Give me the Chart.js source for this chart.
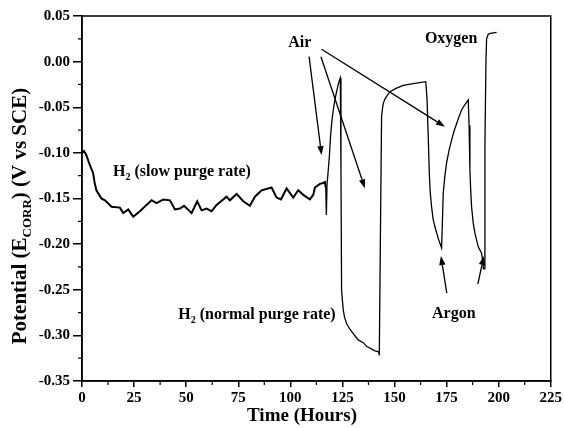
<!DOCTYPE html>
<html>
<head>
<meta charset="utf-8">
<script src="https://cdn.jsdelivr.net/npm/chart.js@4"></script>
<style>
  html, body { margin: 0; padding: 0; background: #fff; }
</style>
</head>
<body>
<canvas id="myChart" width="564" height="428"></canvas>
<script>
// time in hours, corrosion potential in V vs SCE
const times = [
  0, 1, 2, 3.7, 5.3, 6.1, 6.9, 9.3, 11, 14.2, 18.2, 19.8, 22.2, 24.6, 27.8,
  31, 33.4, 35.8, 39, 42.2, 44.6, 47, 49, 52.6, 55.3, 57.4, 59.8, 62.2, 64.6,
  69.4, 71, 74.2, 77.4, 80.6, 83, 86.2, 91, 93.4, 95.5, 98.2, 101.4, 103.8,
  106.2, 109.4, 111, 111.8, 114.2, 115.8, 116.6, 117, 117.3, 117.6,
  118.2, 118.7, 119.3, 119.9, 120.6, 121.4, 122.2, 123, 123.5, 124,
  124.3, 124.6, 125, 125.4, 126, 127, 128.5, 130.2, 132.6, 135, 136.6, 140.6, 142.4, 142.7,
  143.2, 143.8, 144.2, 144.6, 145.4, 146.2, 147.8, 151, 154.2, 159, 165,
  165.6, 166.3, 166.7, 167.2, 167.8, 168.5, 169.4, 171, 172.6,
  173, 173.4, 174.2, 175, 176.2, 177.4, 178.6, 179.8, 181, 182.2, 183.8, 185.4,
  185.8, 186.2, 186.6, 187, 187.8, 188.6, 190.2, 191.8, 192.3, 192.7, 193.2,
  193.4, 193.9, 194.2, 195, 196, 199
];
const potentials = [
  -0.100, -0.098, -0.102, -0.113, -0.122, -0.133, -0.141, -0.150, -0.152, -0.159, -0.160, -0.166, -0.162, -0.170, -0.164,
  -0.157, -0.152, -0.155, -0.151, -0.152, -0.162, -0.161, -0.158, -0.166, -0.153, -0.163, -0.161, -0.164, -0.157,
  -0.148, -0.152, -0.145, -0.153, -0.158, -0.148, -0.141, -0.138, -0.149, -0.151, -0.139, -0.149, -0.141,
  -0.146, -0.151, -0.146, -0.138, -0.134, -0.133, -0.132, -0.138, -0.168, -0.135,
  -0.119, -0.105, -0.082, -0.066, -0.053, -0.042, -0.033, -0.025, -0.021, -0.018,
  -0.120, -0.250, -0.262, -0.272, -0.280, -0.287, -0.293, -0.298, -0.305, -0.308, -0.312, -0.317, -0.318, -0.322,
  -0.200, -0.060, -0.052, -0.046, -0.041, -0.038, -0.033, -0.029, -0.026, -0.024, -0.022,
  -0.040, -0.090, -0.122, -0.145, -0.159, -0.172, -0.181, -0.194, -0.204,
  -0.175, -0.144, -0.125, -0.111, -0.097, -0.086, -0.076, -0.068, -0.060, -0.053, -0.047, -0.042,
  -0.070, -0.119, -0.142, -0.159, -0.177, -0.188, -0.203, -0.210, -0.218, -0.227, -0.227,
  -0.093, 0.000, 0.025, 0.030, 0.031, 0.032
];
const xTickValues = [0, 25, 50, 75, 100, 125, 150, 175, 200, 225];
const yTickValues = [-0.35, -0.30, -0.25, -0.20, -0.15, -0.10, -0.05, 0.00, 0.05];

// text notes placed in data units: [parts, x, baseline y]; a part marked 1 is a subscript
const notes = [
  [[['H'], ['2', 1], [' (slow purge rate)']], 14.9, -0.1254],
  [[['H'], ['2', 1], [' (normal purge rate)']], 46.2, -0.2824],
  [[['Air']], 99, 0.0164],
  [[['Oxygen']], 164.6, 0.0207],
  [[['Argon']], 168, -0.2810]
];
// arrows: tail x, tail y, tip x, tip y
const arrows = [
  [109, 0.0054, 115, -0.1023],
  [114.7, 0.0054, 135.8, -0.1388],
  [115, 0.0135, 174.2, -0.0713],
  [175.1, -0.2536, 172.3, -0.213],
  [190, -0.2437, 192.9, -0.213]
];

const serif = '"Liberation Serif", "Times New Roman", serif';

function drawParts(c, parts, x, y, size) {
  let cx = x;
  for (const p of parts) {
    if (p[1]) {
      c.font = 'bold ' + Math.round(size * 0.62) + 'px ' + serif;
      c.fillText(p[0], cx, y + size * 0.22);
    } else {
      c.font = 'bold ' + size + 'px ' + serif;
      c.fillText(p[0], cx, y);
    }
    cx += c.measureText(p[0]).width;
  }
  return cx - x;
}

function partsWidth(c, parts, size) {
  let w = 0;
  for (const p of parts) {
    c.font = 'bold ' + (p[1] ? Math.round(size * 0.62) : size) + 'px ' + serif;
    w += c.measureText(p[0]).width;
  }
  return w;
}

const extras = {
  id: 'extras',
  afterDraw(chart) {
    const c = chart.ctx;
    const a = chart.chartArea;
    const sx = chart.scales.x, sy = chart.scales.y;
    c.save();
    c.strokeStyle = '#000';
    c.fillStyle = '#000';

    // frame
    c.lineWidth = 1.5;
    c.strokeRect(a.left, a.top, a.right - a.left, a.bottom - a.top);

    // minor ticks
    c.lineWidth = 1.2;
    c.beginPath();
    for (let i = 0; i < xTickValues.length - 1; i++) {
      const px = sx.getPixelForValue((xTickValues[i] + xTickValues[i + 1]) / 2);
      c.moveTo(px, a.bottom);
      c.lineTo(px, a.bottom + 4);
    }
    for (let i = 0; i < yTickValues.length - 1; i++) {
      const py = sy.getPixelForValue((yTickValues[i] + yTickValues[i + 1]) / 2);
      c.moveTo(a.left, py);
      c.lineTo(a.left - 4, py);
    }
    c.stroke();

    // notes
    c.textBaseline = 'alphabetic';
    c.textAlign = 'left';
    for (const n of notes) {
      drawParts(c, n[0], sx.getPixelForValue(n[1]), sy.getPixelForValue(n[2]), 16);
    }

    // arrows
    c.lineWidth = 1.3;
    for (const ar of arrows) {
      const x0 = sx.getPixelForValue(ar[0]), y0 = sy.getPixelForValue(ar[1]);
      const x1 = sx.getPixelForValue(ar[2]), y1 = sy.getPixelForValue(ar[3]);
      const ang = Math.atan2(y1 - y0, x1 - x0);
      const hl = 9, hw = 3.2;
      const bx = x1 - hl * Math.cos(ang), by = y1 - hl * Math.sin(ang);
      c.beginPath();
      c.moveTo(x0, y0);
      c.lineTo(bx, by);
      c.stroke();
      c.beginPath();
      c.moveTo(x1, y1);
      c.lineTo(bx + hw * Math.sin(ang), by - hw * Math.cos(ang));
      c.lineTo(bx - hw * Math.sin(ang), by + hw * Math.cos(ang));
      c.closePath();
      c.fill();
    }

    // x axis title
    c.font = 'bold 19px ' + serif;
    c.textAlign = 'center';
    c.fillText('Time (Hours)', 302, 421);
    c.textAlign = 'left';

    // y axis title with subscript
    const yParts = [['Potential (E'], ['CORR', 1], [') (V vs SCE)']];
    const w = partsWidth(c, yParts, 21);
    c.translate(26, 216);
    c.rotate(-Math.PI / 2);
    drawParts(c, yParts, -w / 2, 0, 21);
    c.restore();
  }
};

const ctx = document.getElementById('myChart');

new Chart(ctx, {
  type: 'line',
  data: {
    datasets: [{
      data: times.map((t, i) => ({ x: t, y: potentials[i] })),
      borderColor: '#000',
      borderWidth: 1.5,
      pointRadius: 0,
      tension: 0,
      fill: false,
      segment: {
        borderWidth: s => s.p0.parsed.x < 117 ? 2 : 1.3
      }
    }]
  },
  options: {
    responsive: false,
    animation: false,
    layout: { padding: { top: 16, right: 13, left: 0, bottom: 0 } },
    plugins: {
      legend: { display: false },
      tooltip: { enabled: false }
    },
    scales: {
      x: {
        type: 'linear',
        min: 0,
        max: 225,
        afterBuildTicks: s => { s.ticks = xTickValues.map(v => ({ value: v })); },
        afterFit: s => { s.height = 47; },
        grid: { drawOnChartArea: false, tickLength: 6, color: '#000', lineWidth: 1.5 },
        border: { color: '#000', width: 1.5 },
        ticks: {
          color: '#000',
          padding: 2,
          maxRotation: 0,
          autoSkip: false,
          font: { family: serif, size: 15, weight: 'bold' },
          callback: v => String(v)
        }
      },
      y: {
        min: -0.35,
        max: 0.05,
        afterBuildTicks: s => { s.ticks = yTickValues.map(v => ({ value: v })); },
        afterFit: s => { s.width = 82; },
        grid: { drawOnChartArea: false, tickLength: 9, color: '#000', lineWidth: 1.5 },
        border: { color: '#000', width: 1.5 },
        ticks: {
          color: '#000',
          padding: 3,
          autoSkip: false,
          font: { family: serif, size: 15, weight: 'bold' },
          callback: v => v.toFixed(2)
        }
      }
    }
  },
  plugins: [extras]
});
</script>
</body>
</html>
